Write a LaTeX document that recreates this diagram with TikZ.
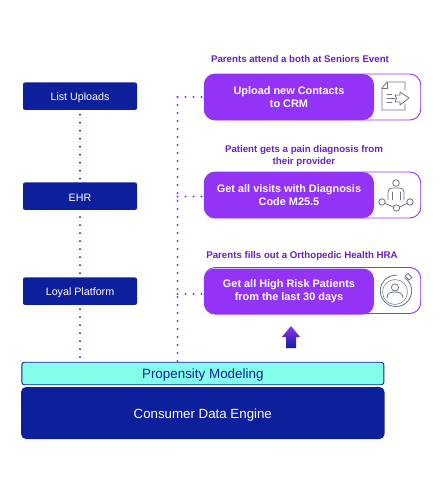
\documentclass[tikz,border=0pt]{standalone}
\usepackage{fontspec}
\setmainfont{Liberation Sans}
\usetikzlibrary{calc,decorations.markings}
\definecolor{navy}{HTML}{0E1F9B}
\definecolor{violet1}{HTML}{9333F5}
\definecolor{titlev}{HTML}{6A1FC4}
\definecolor{aqua}{HTML}{84FFEA}
\definecolor{icong}{HTML}{6B7588}
\newcommand{\lowr}[1]{\raisebox{-2pt}[\height][\depth]{#1}}
\tikzset{
  srcbox/.style={draw=none,fill=navy,rounded corners=2pt,minimum width=114pt,minimum height=27.5pt,inner sep=0pt,text=white,font=\fontsize{10.7}{12}\selectfont},
  outerbox/.style={draw=violet1,line width=0.9pt,fill=white,rounded corners=11pt,minimum width=216.5pt,minimum height=46pt,inner sep=0pt},
  fillbox/.style={fill=violet1,rounded corners=11pt,minimum width=170pt,minimum height=46pt,inner sep=0pt,text=white,align=center,font=\fontsize{10.9}{13.2}\selectfont\bfseries},
  titletxt/.style={text=titlev,align=center,inner sep=0pt,font=\fontsize{9.7}{12.4}\selectfont\bfseries},
  dotline/.style={decorate,decoration={markings,mark=between positions 0 and 1 step 8pt with {\fill[#1] (0,0) circle (1.05pt);}}},
  icon/.style={draw=icong,line width=0.8pt,line join=round,line cap=round}
}
\begin{document}
\begin{tikzpicture}[x=1pt,y=-1pt]
\useasboundingbox (0,0) rectangle (447,493);
% layers
\node[srcbox] (list) at (80,96.2) {\lowr{List Uploads}};
\node[srcbox] (ehr) at (80,196.2) {\lowr{EHR}};
\node[srcbox] (loyal) at (80,291.2) {\lowr{Loyal Platform}};
\node[draw=navy,line width=0.9pt,fill=aqua,rounded corners=2.5pt,minimum width=362pt,minimum height=22.5pt,inner sep=0pt,text=navy,font=\fontsize{13.4}{15}\selectfont] (prop) at (202.8,373.5) {\lowr{Propensity Modeling}};
\node[fill=navy,rounded corners=5pt,minimum width=363.5pt,minimum height=52pt,inner sep=0pt,text=white,font=\fontsize{13.3}{15}\selectfont] (cde) at (202.8,413) {\lowr{Consumer Data Engine}};
% cards
\node[outerbox] (o1) at (312.5,97) {};
\node[outerbox] (o2) at (312.5,195) {};
\node[outerbox] (o3) at (312.5,290.5) {};
\node[fillbox] (c1) at (289,97) {Upload new Contacts\\to CRM};
\node[fillbox] (c2) at (289,195) {Get all visits with Diagnosis\\Code M25.5};
\node[fillbox] (c3) at (289,291.5) {Get all High Risk Patients\\from the last 30 days};
\node[titletxt] (t1) at (300,59) {Parents attend a both at Seniors Event};
\node[titletxt] (t2) at (304,156) {Patient gets a pain diagnosis from\\their provider};
\node[titletxt] (t3) at (302,256) {Parents fills out a Orthopedic Health HRA};
% dotted connectors
\path[dotline=navy] ([yshift=3.5pt]list.south) -- (ehr.north);
\path[dotline=navy] ([yshift=4pt]loyal.south) -- (prop.north -| loyal);
\path[dotline=navy] ([yshift=1pt]ehr.south) -- (loyal.north);
\coordinate (top) at (177.5,97);
\coordinate (mid) at (177.5,196.5);
\coordinate (low) at (177.5,294);
\path[dotline=violet1] (top) -- (top |- prop.north);
\path[dotline=violet1] (top) -- (c1.west);
\path[dotline=violet1] (mid) -- (mid -| c2.west);
\path[dotline=violet1] (low) -- (low -| c3.west);
% up arrow
\shade[top color=violet1,bottom color=navy] (291,326) -- (300,337) -- (296,337) -- (296,348) -- (286,348) -- (286,337) -- (282,337) -- cycle;
% icon 1: document with arrow
\draw[icon] (405,90) -- (405,82) -- (387,82) -- (382,88) -- (382,110) -- (405,110) -- (405,104);
\draw[icon] (387,82) -- (387,88) -- (382,88);
\draw[icon] (395,95) -- (400,95) -- (400,92) -- (409,98) -- (400,105) -- (400,102) -- (395,102) .. controls (397,100) and (397,97) .. (395,95);
\draw[icon] (387,94) -- (392,94) (387,98) -- (395,98) (387,102) -- (392,102);
% icon 2: person with nodes
\draw[icon] (396,183) circle (3.3);
\draw[icon] (388,200) -- (388,192) .. controls (388,189.5) and (390,188) .. (392,188) -- (400,188) .. controls (402,188) and (404,189.5) .. (404,192) -- (404,200);
\draw[icon] (392,192) -- (392,200) (400,192) -- (400,200);
\draw[icon] (382,202) circle (3.2) (396.5,208) circle (3.2) (410,202) circle (3.2);
\draw[icon] (385,203.5) -- (393.5,207) (399.5,207) -- (407,203.5);
% icon 3: dial
\draw[icon] (405,278) arc (-55:275:15.7);
\draw[icon,line width=0.5pt] (395,292) circle (12.5);
\draw[icon] (395,287.5) circle (3.6);
\draw[icon] (387,298) .. controls (387,293) and (391,292) .. (395,292) .. controls (399,292) and (403,293) .. (403,298);
\draw[icon] (405,276) -- (408,273.5) -- (412,277.5) -- (409,280) -- cycle;
\end{tikzpicture}
\end{document}
